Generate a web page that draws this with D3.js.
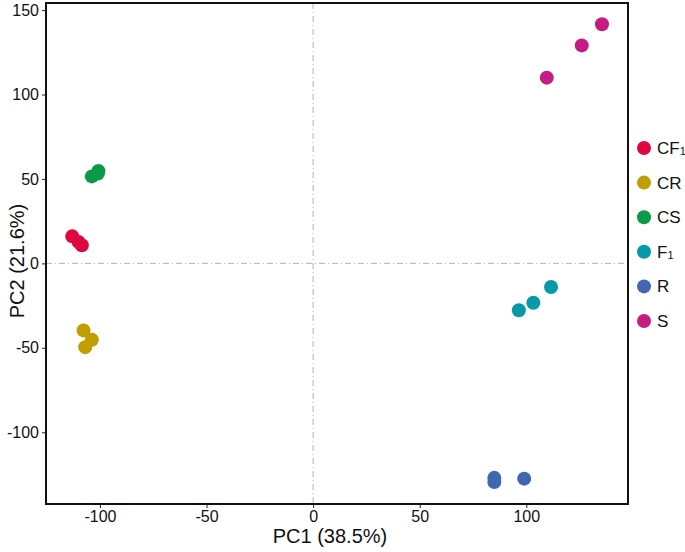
<!DOCTYPE html>
<html>
<head>
<meta charset="utf-8">
<script src="https://cdn.jsdelivr.net/npm/d3@7"></script>
<style>
  body { margin: 0; background: #fff; }
  text { font-family: "Liberation Sans", Arial, sans-serif; }
</style>
</head>
<body>
<script>
// groups and their colours
var groups = ["CF1", "CR", "CS", "F1", "R", "S"];
var colors = ["#E0073F", "#C19D00", "#0C9A48", "#0699A8", "#4068B2", "#C51C83"];

// PCA scores
var pc1 = [-113, -110, -108.5,  -107.7, -103.8, -106.9,  -103.8, -100.7, -101,
           111.6, 103.3, 96.5,  85, 85, 99,  135.5, 126, 109.6];
var pc2 = [16, 12.6, 10.7,  -39.7, -45.2, -49.6,  51.5, 54.7, 53.2,
           -14, -23.3, -27.8,  -127, -129.5, -127.5,  141.6, 129.1, 110];
var grp = ["CF1","CF1","CF1","CR","CR","CR","CS","CS","CS",
           "F1","F1","F1","R","R","R","S","S","S"];

var xTicks = [-100, -50, 0, 50, 100];
var yTicks = [-100, -50, 0, 50, 100, 150];

var W = 685, H = 552;
var pLeft = 46, pRight = 628, pTop = 3, pBottom = 504;

var x = d3.scaleLinear().domain([-125.3, 147.7]).range([pLeft, pRight]);
var y = d3.scaleLinear().domain([-142.5, 154.2]).range([pBottom, pTop]);
var color = d3.scaleOrdinal().domain(groups).range(colors);

var svg = d3.select("body").append("svg")
  .attr("width", W)
  .attr("height", H);

// reference lines
svg.append("line")
  .attr("x1", x(0)).attr("x2", x(0))
  .attr("y1", pTop).attr("y2", pBottom)
  .attr("stroke", "#b3b3b3").attr("stroke-width", 1)
  .attr("stroke-dasharray", "6,3,1,3");
svg.append("line")
  .attr("x1", pLeft).attr("x2", pRight)
  .attr("y1", y(0)).attr("y2", y(0))
  .attr("stroke", "#b3b3b3").attr("stroke-width", 1)
  .attr("stroke-dasharray", "6,3,1,3");

// points
var pts = d3.range(pc1.length).map(function(i) {
  return {x: pc1[i], y: pc2[i], g: grp[i]};
});
svg.append("g").selectAll("circle")
  .data(pts)
  .enter()
  .append("circle")
  .attr("cx", function(d) { return x(d.x); })
  .attr("cy", function(d) { return y(d.y); })
  .attr("r", 7)
  .attr("fill", function(d) { return color(d.g); });

// axes (plain hyphen for negatives, like the original)
var fmt = function(d) { return String(d); };
var xAxis = svg.append("g")
  .attr("transform", "translate(0," + pBottom + ")")
  .call(d3.axisBottom(x).tickValues(xTicks).tickFormat(fmt).tickSize(4).tickPadding(3));
var yAxis = svg.append("g")
  .attr("transform", "translate(" + pLeft + ",0)")
  .call(d3.axisLeft(y).tickValues(yTicks).tickFormat(fmt).tickSize(4).tickPadding(3));
[xAxis, yAxis].forEach(function(a) {
  a.attr("font-size", 16).attr("font-family", "'Liberation Sans', Arial, sans-serif");
  a.select(".domain").remove();
  a.selectAll("line").attr("stroke", "#222");
  a.selectAll("text").attr("fill", "#111");
});

// panel border
svg.append("rect")
  .attr("x", pLeft).attr("y", pTop)
  .attr("width", pRight - pLeft).attr("height", pBottom - pTop)
  .attr("fill", "none").attr("stroke", "#111").attr("stroke-width", 2);

// axis titles
svg.append("text")
  .attr("x", 330).attr("y", 543)
  .attr("text-anchor", "middle")
  .attr("font-size", 20).attr("fill", "#111")
  .text("PC1 (38.5%)");
svg.append("text")
  .attr("transform", "translate(24,261) rotate(-90)")
  .attr("text-anchor", "middle")
  .attr("font-size", 20).attr("fill", "#111")
  .text("PC2 (21.6%)");

// legend
var leg = svg.append("g").selectAll("g")
  .data(groups)
  .enter()
  .append("g")
  .attr("transform", function(d, i) { return "translate(644," + (148 + i * 34.6) + ")"; });
leg.append("circle")
  .attr("r", 7)
  .attr("fill", function(d) { return color(d); });
var lt = leg.append("text")
  .attr("x", 13).attr("y", 6)
  .attr("font-size", 17).attr("fill", "#111");
lt.append("tspan").text(function(d) { return d.replace("1", ""); });
lt.filter(function(d) { return d.indexOf("1") >= 0; })
  .append("tspan")
  .attr("dy", 1)
  .attr("font-size", 11)
  .text("1");
</script>
</body>
</html>
